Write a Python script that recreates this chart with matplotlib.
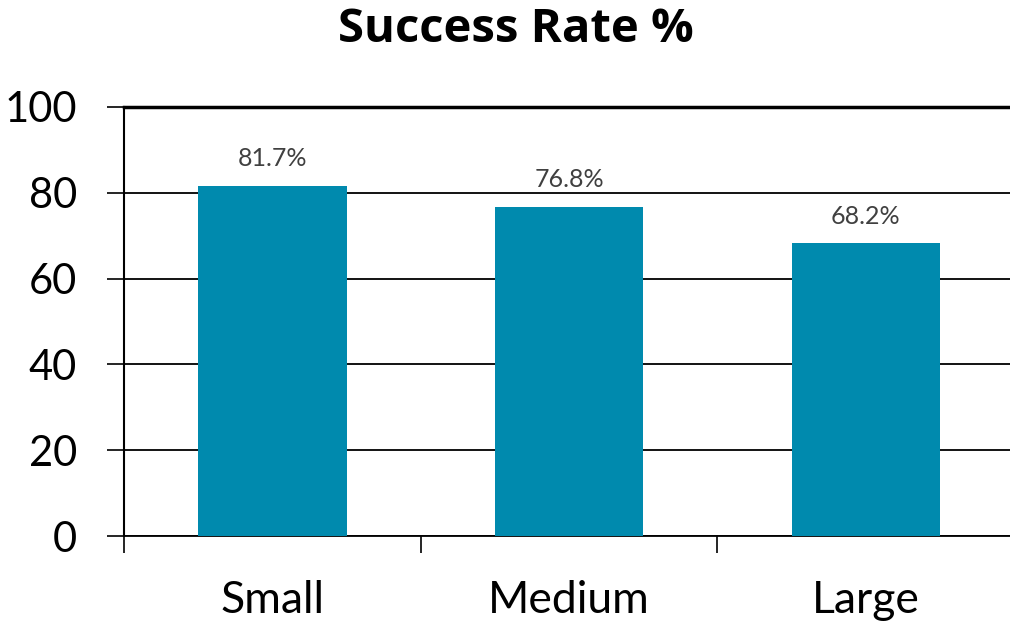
import matplotlib
matplotlib.use('Agg')
from matplotlib import pyplot as plt
import numpy as np

categories = ['Small', 'Medium', 'Large']
success_rate = [81.7, 76.8, 68.2]
y_ticks = [0, 20, 40, 60, 80, 100]

plt.rcParams['font.family'] = ['Lato', 'DejaVu Sans']

fig = plt.figure(figsize=(10.1, 6.22), dpi=100)
ax = fig.add_axes([124/1010, 1 - 536/622, 890/1010, (536 - 107)/622])

x = np.arange(len(categories))
bars = ax.bar(x, success_rate, width=0.5, color='#008AAE', zorder=3)

for xi, v in zip(x, success_rate):
    ax.annotate(f'{v}%', (xi, v), xytext=(0, 11), textcoords='offset points',
                ha='center', va='bottom', fontsize=18, color='#404040')

ax.set_xlim(-0.5, len(categories) - 0.5)
ax.set_ylim(0, 100)
ax.set_yticks(y_ticks)
ax.set_yticklabels([str(t) for t in y_ticks])
ax.set_xticks(x)
ax.set_xticklabels(categories)
ax.set_xticks(np.arange(-0.5, len(categories) - 0.5, 1), minor=True)

ax.tick_params(axis='y', length=12, width=1.2, pad=22, labelsize=30, color='black')
ax.tick_params(axis='x', which='major', length=0, pad=32, labelsize=32)
ax.tick_params(axis='x', which='minor', length=12, width=1.2, direction='out')

ax.grid(axis='y', color='black', linewidth=1.3, zorder=1)
for s in ['top', 'right']:
    ax.spines[s].set_visible(False)
ax.spines['left'].set_linewidth(1.5)
ax.spines['bottom'].set_linewidth(1.3)
ax.axhline(100, color='black', linewidth=2.5, zorder=2, clip_on=False)

fig.text(516/1010, 1 - 29/622, 'Success Rate %', ha='center', va='center',
         fontsize=34, fontweight='bold', family=['Open Sans', 'DejaVu Sans'])

plt.savefig('out.png', dpi=100)
